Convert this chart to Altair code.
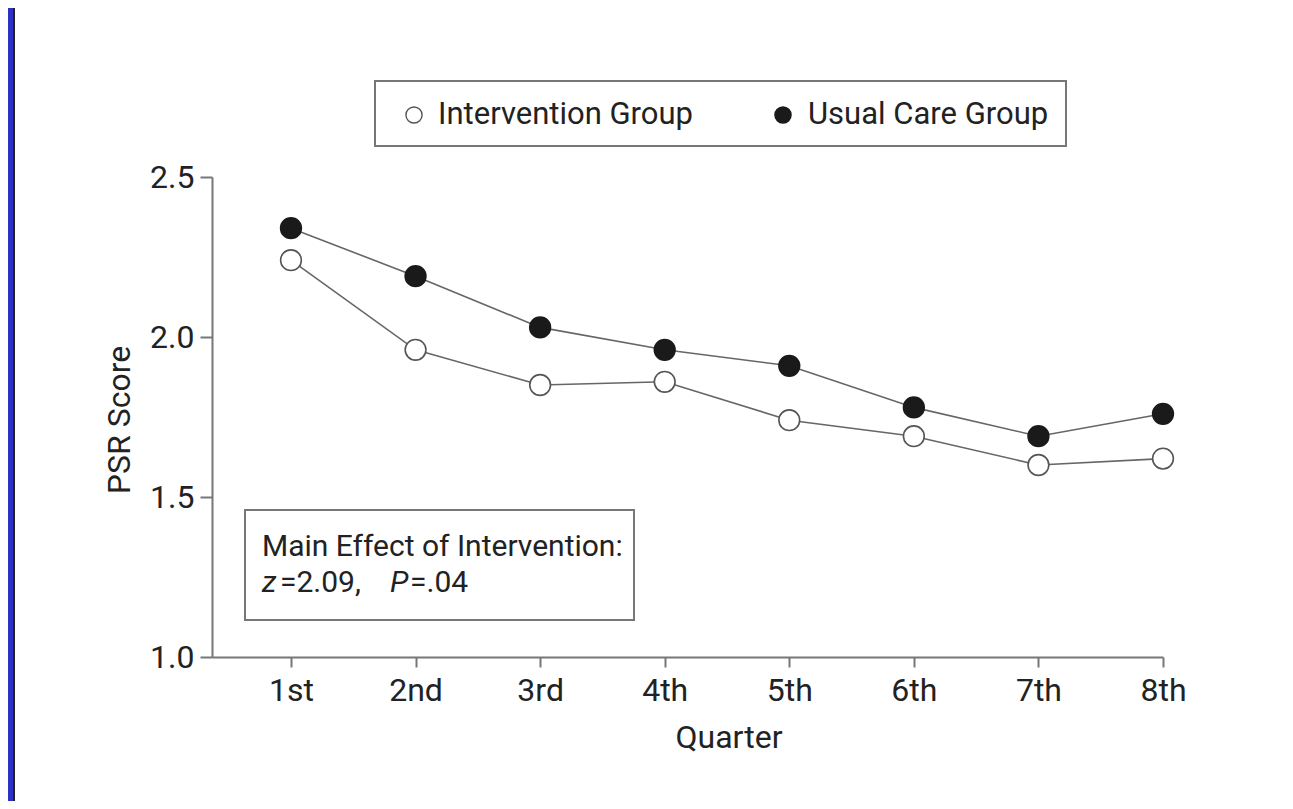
import altair as alt
import pandas as pd

# ---- data ----
quarters = ["1st", "2nd", "3rd", "4th", "5th", "6th", "7th", "8th"]
quarter_index = [1, 2, 3, 4, 5, 6, 7, 8]
intervention = [2.24, 1.96, 1.85, 1.86, 1.74, 1.69, 1.60, 1.62]
usual_care = [2.34, 2.19, 2.03, 1.96, 1.91, 1.78, 1.69, 1.76]
groups = ["Intervention Group", "Usual Care Group"]
y_ticks = [1.0, 1.5, 2.0, 2.5]
note_line1 = "Main Effect of Intervention:"
note_z, note_z_val, note_p, note_p_val = "z", "=2.09,", "P", "=.04"

FONT = "Roboto"
TXT = "#222222"
AX = "#777777"
FS = 32
LEG_FS = 31
NOTE_FS = 30

rows = []
for q, a, b in zip(quarter_index, intervention, usual_care):
    rows.append({"q": q, "score": a, "group": groups[0]})
    rows.append({"q": q, "score": b, "group": groups[1]})
df = pd.DataFrame(rows)

W, H = 951, 480

label_js = "[" + ",".join("'" + s + "'" for s in [""] + quarters) + "]"

x_enc = alt.X(
    "q:Q",
    scale=alt.Scale(domain=[0.366, 8], nice=False, zero=False),
    axis=alt.Axis(
        values=quarter_index, labelExpr=label_js + "[datum.value]", title=None,
        grid=False, domainColor=AX, domainWidth=2, tickColor=AX, tickWidth=2,
        tickSize=10, labelFontSize=FS, labelPadding=8, labelColor=TXT,
        labelFont=FONT, labelFlush=False,
    ),
)
y_enc = alt.Y(
    "score:Q",
    scale=alt.Scale(domain=[1.0, 2.5], nice=False, zero=False),
    axis=alt.Axis(
        values=y_ticks, format=".1f", title=None, grid=False,
        domainColor=AX, domainWidth=2, tickColor=AX, tickWidth=2, tickSize=12,
        labelFontSize=FS, labelPadding=6, labelColor=TXT, labelFont=FONT,
        labelFlush=False,
    ),
)

base = alt.Chart(df)
lines = base.mark_line(color="#666666", strokeWidth=1.6).encode(
    x=x_enc, y=y_enc, detail="group:N"
)
points = base.mark_point(shape="circle", filled=True, size=430, strokeWidth=1.6, opacity=1).encode(
    x=x_enc, y=y_enc,
    fill=alt.Fill("group:N", scale=alt.Scale(domain=groups, range=["#ffffff", "#1a1a1a"]), legend=None),
    stroke=alt.Stroke("group:N", scale=alt.Scale(domain=groups, range=["#555555", "#1a1a1a"]), legend=None),
)

one = alt.Chart(pd.DataFrame({"k": [0]}))

def box(x1, x2, y1, y2):
    return one.mark_rect(fill="white", stroke=AX, strokeWidth=2).encode(
        x=alt.value(x1), x2=alt.value(x2), y=alt.value(y1), y2=alt.value(y2)
    )

def txt(s, x, y, size=FS, style="normal", align="left", angle=0):
    return one.mark_text(
        text=s, font=FONT, fontSize=size, fontStyle=style, color=TXT,
        align=align, baseline="middle", angle=angle,
    ).encode(x=alt.value(x), y=alt.value(y))

legend_box = box(163, 854, -96, -31)
leg_sym = []
for i, (gx, fillc, strokec) in enumerate([(202, "#ffffff", "#555555"), (571, "#1a1a1a", "#1a1a1a")]):
    leg_sym.append(
        alt.Chart(pd.DataFrame({"group": [groups[i]]})).mark_point(
            shape="circle", filled=True, size=260, fill=fillc, stroke=strokec, strokeWidth=1.4, opacity=1
        ).encode(x=alt.value(gx), y=alt.value(-62))
    )
leg_txt = [txt(groups[0], 226, -62, size=LEG_FS), txt(groups[1], 596, -62, size=LEG_FS)]

note_box = box(33, 422, 333, 443)
note = [
    txt(note_line1, 50, 370, size=NOTE_FS),
    txt(note_z, 50, 406, size=NOTE_FS, style="italic"),
    txt(note_z_val, 68, 406, size=NOTE_FS),
    txt(note_p, 178, 406, size=NOTE_FS, style="italic"),
    txt(note_p_val, 198, 406, size=NOTE_FS),
]

y_title = txt("PSR Score", -92, 243, align="center", angle=270)
x_title = txt("Quarter", 517, 561, align="center")

strip = one.mark_rect(fill="#2f31c4").encode(
    x=alt.value(-204), x2=alt.value(-199), y=alt.value(-169), y2=alt.value(624)
)
strip_line = one.mark_rule(color="#222222", strokeWidth=2).encode(
    x=alt.value(-198), y=alt.value(-169), y2=alt.value(624)
)

chart = alt.layer(
    strip, strip_line, legend_box, *leg_sym, *leg_txt, note_box, *note,
    y_title, x_title, lines, points,
).properties(
    width=W, height=H,
    padding={"left": 204, "top": 169, "right": 122, "bottom": 144},
    autosize=alt.AutoSizeParams(type="none"),
    background="white",
).configure_view(stroke=None)

chart.save("out.html", embed_options={"renderer": "svg", "actions": False})
